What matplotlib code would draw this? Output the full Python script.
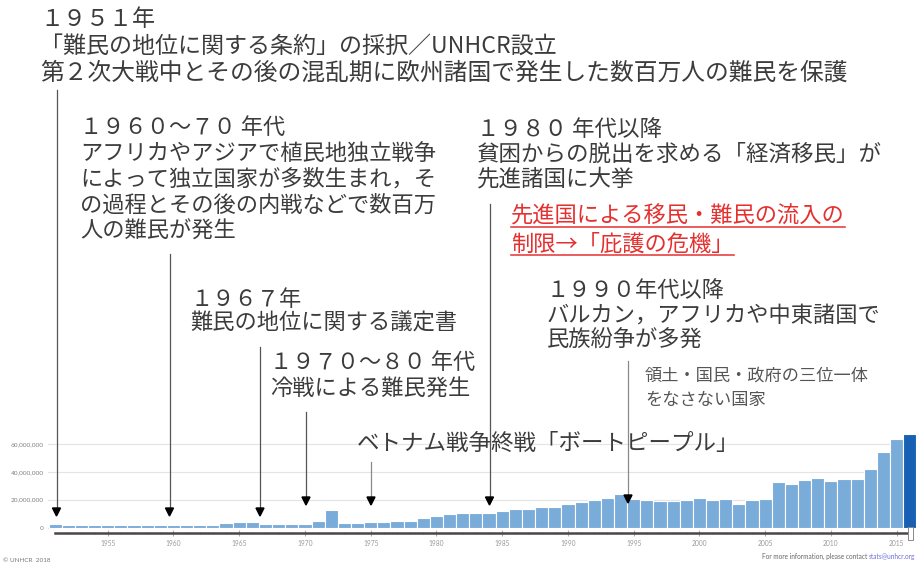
import matplotlib
matplotlib.use("Agg")
import matplotlib.pyplot as plt
from matplotlib.ticker import FuncFormatter, MultipleLocator

plt.rcParams['font.family'] = ['Noto Sans CJK JP', 'DejaVu Sans']

# refugee totals (millions), 1951-2016
years = list(range(1951, 2017))
refugees = [2.3, 2.1, 2.0, 2.0, 2.0, 2.0, 2.0, 2.0, 2.0, 2.0, 2.0, 2.0, 2.0,
            3.0, 3.6, 3.6, 2.4, 2.4, 2.4, 2.4,
            4.9, 12.6, 3.0, 3.0, 3.7, 4.3, 4.5, 5.0, 6.5, 8.6,
            9.6, 10.1, 10.3, 10.5, 12.1, 13.1, 13.5, 14.5, 14.7, 17.1,
            18.6, 19.8, 21.0, 23.9, 20.3, 20.0, 18.8, 18.8, 19.6, 21.4,
            19.6, 20.5, 16.7, 19.6, 20.7, 32.5, 31.3, 34.0, 35.8, 33.5,
            34.7, 35.1, 42.3, 54.5, 63.5, 67.3]
highlight_year = 2016

ytick_vals = [0, 20e6, 40e6, 60e6]
xtick_years = list(range(1955, 2016, 5))

txt = '#3c3c3c'
red = '#e53030'

W, H = 916, 563
fig = plt.figure(figsize=(W / 100, H / 100), dpi=100)

# ---- bar chart ----
ax = fig.add_axes([48 / W, (H - 533.3) / H, (W - 48) / W, (533.3 - 430) / H])
vals = [v * 1e6 for v in refugees]
colors = ['#1760b3' if y == highlight_year else '#79acd9' for y in years]
ax.bar(years, vals, width=1.0, color=colors, edgecolor='white', linewidth=0.8, zorder=3)
ax.set_xlim(1950.46, 2016.47)
ax.set_ylim(-4.17e6, 70.1e6)

ax.set_yticks(ytick_vals)
ax.yaxis.set_major_formatter(FuncFormatter(lambda v, p: '{:,.0f}'.format(v)))
ax.tick_params(axis='y', length=0, pad=3, labelsize=4.6, labelcolor='#808080')
for lab in ax.get_yticklabels():
    lab.set_family('Lato')
ax.grid(axis='y', color='#e4e4e4', lw=0.8, zorder=0)

ax.set_xticks(xtick_years)
ax.xaxis.set_minor_locator(MultipleLocator(1))
ax.tick_params(axis='x', which='major', direction='inout', length=5, width=0.8,
               color='#b0b0b0', pad=2.5, labelsize=4.8, labelcolor='#9a9a9a')
ax.tick_params(axis='x', which='minor', direction='inout', length=2, width=0.6, color='#b8b8b8')
for lab in ax.get_xticklabels():
    lab.set_family('Lato')

for s in ['top', 'right', 'left']:
    ax.spines[s].set_visible(False)
ax.spines['bottom'].set_bounds(years[0], years[-1])
ax.spines['bottom'].set_color('#4d4545')
ax.spines['bottom'].set_linewidth(1.8)
ax.patch.set_alpha(0)

# ---- annotation layer in pixel units ----
ov = fig.add_axes([0, 0, 1, 1])
ov.set_xlim(0, W)
ov.set_ylim(H, 0)
ov.axis('off')
ov.patch.set_alpha(0)


def block(x, ys, lines, size=16, color=txt):
    out = []
    if not isinstance(size, list):
        size = [size] * len(lines)
    for y, s, fs in zip(ys, lines, size):
        out.append(ov.text(x, y, s, fontsize=fs, color=color, ha='left', va='center'))
    return out


block(40, [19, 46, 73], ['１９５１年',
                         '「難民の地位に関する条約」の採択／UNHCR設立',
                         '第２次大戦中とその後の混乱期に欧州諸国で発生した数百万人の難民を保護'],
      size=[16.6, 16.6, 17.1])
block(80, [127, 153, 179, 205, 231], ['１９６０～７０ 年代',
                                      'アフリカやアジアで植民地独立戦争',
                                      'によって独立国家が多数生まれ，そ',
                                      'の過程とその後の内戦などで数百万',
                                      '人の難民が発生'])
block(477, [129, 154, 179], ['１９８０ 年代以降',
                             '貧困からの脱出を求める「経済移民」が',
                             '先進諸国に大挙'], size=16.2)
red_lines = block(511, [216, 244], ['先進国による移民・難民の流入の',
                                    '制限→「庇護の危機」'], color=red)
block(190, [299, 323], ['１９６７年', '難民の地位に関する議定書'])
block(270, [362, 388], ['１９７０～８０ 年代', '冷戦による難民発生'])
block(547, [290, 315, 340], ['１９９０年代以降',
                             'バルカン，アフリカや中東諸国で',
                             '民族紛争が多発'])
block(645, [376, 400], ['領土・国民・政府の三位一体', 'をなさない国家'],
      size=12.4, color='#555555')

# pointer lines: (x, top, arrow tip, colour)
pointers = [(56.5, 90, 516, '#555555'),
            (169.5, 254, 516, '#555555'),
            (260, 347, 516, '#555555'),
            (306, 412, 505, '#555555'),
            (489.5, 204, 505, '#555555'),
            (628, 361, 503, '#8a8a8a')]
for x, top, tip, c in pointers:
    ov.plot([x, x], [top, tip - 6], color=c, lw=0.9, zorder=4)
    ov.fill([x - 4, x + 4, x], [tip - 8, tip - 8, tip], color='black', zorder=5)

ov.text(357, 443, 'ベトナム戦争終戦「ボートピープル」', fontsize=16.2, color=txt,
        ha='left', va='center', zorder=3)
ov.plot([371, 371], [462, 499], color='#8a8a8a', lw=0.9, zorder=4)
ov.fill([367, 375, 371], [497, 497, 505], color='black', zorder=5)

# slider handle under the latest year
ov.add_patch(plt.Rectangle((907.5, 527), 5, 13, facecolor='white',
                           edgecolor='#888888', lw=0.7, zorder=6))

# footer
ov.text(3, 560, '© UNHCR  2018', fontsize=4.6, color='#777777', ha='left',
        va='center', family='Lato')
mail = ov.text(915, 556, 'stats@unhcr.org', fontsize=4.7, color='#6a6fd8',
               ha='right', va='center', family='Lato')

fig.canvas.draw()
bb = mail.get_window_extent()
ov.text(915 - bb.width - 1.5, 556, 'For more information, please contact', fontsize=4.7,
        color='#666666', ha='right', va='center', family='Lato')

# underline the red note
for t in red_lines:
    e = t.get_window_extent()
    y = H - e.y0 - 1
    ov.plot([e.x0, e.x1], [y, y], color=red, lw=1.1)

fig.savefig('out.png', dpi=100)
